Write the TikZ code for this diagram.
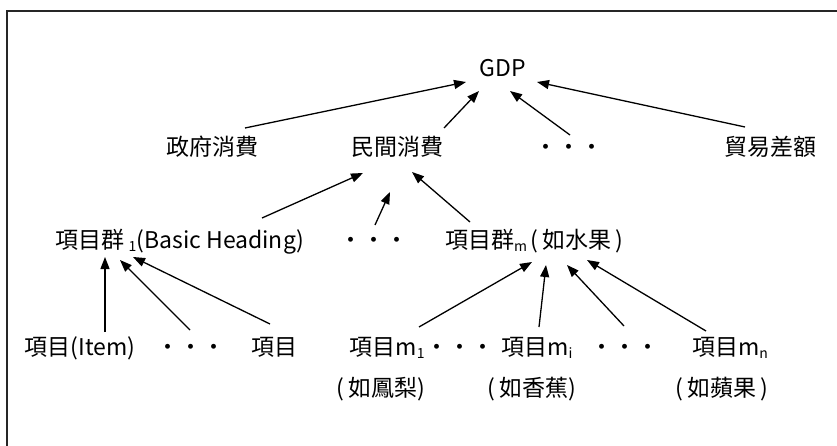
\documentclass[tikz,border=0pt]{standalone}
\usepackage{fontspec}
\setmainfont{Noto Sans CJK TC}
\usetikzlibrary{arrows.meta}
\newcommand\lsub[1]{\raisebox{-0.25ex}{\fontsize{14}{14}\selectfont #1}}
\tikzset{
  lbl/.style={anchor=base,inner sep=0pt,font=\fontsize{23}{28}\selectfont},
  arr/.style={line width=1.3pt,-{Triangle[length=12pt,width=9pt]}},
  frame/.style={line width=2pt,draw=black!85}
}
\begin{document}
\begin{tikzpicture}[x=1pt,y=-1pt]
\useasboundingbox (0,0) rectangle (837,446);
\fill[white] (0,0) rectangle (837,446);
\draw[frame] (6.5,446) -- (6.5,11.5) -- (837,11.5);
% nodes
\node[lbl] (gdp) at (503,77) {GDP};
\node[lbl] (zf) at (212,156) {政府消費};
\node[lbl] (mj) at (397,156) {民間消費};
\node[lbl] (d1) at (569,156) {・・・};
\node[lbl] (my) at (770,156) {貿易差額};
\node[lbl] (g1) at (180,248) {項目群\,\lsub{1}(Basic Heading)};
\node[lbl] (d2) at (374,248) {・・・};
\node[lbl] (gm) at (534,248) {項目群\lsub{m}\,(\,如水果\,)};
\node[lbl] (i1) at (80,355) {項目(Item)};
\node[lbl] (d3) at (191,355) {・・・};
\node[lbl] (i2) at (274,355) {項目};
\node[lbl] (m1) at (387,355) {項目m\lsub{1}};
\node[lbl] (d4) at (460,355) {・・・};
\node[lbl] (mi) at (537,355) {項目m\lsub{i}};
\node[lbl] (d5) at (625,355) {・・・};
\node[lbl] (mn) at (730,355) {項目m\lsub{n}};
\node[lbl] (p1) at (381,396) {(\,如鳳梨)};
\node[lbl] (p2) at (532,396) {(\,如香蕉)};
\node[lbl] (p3) at (722,396) {(\,如蘋果\,)};
% connectors
\draw[arr] ([shift={(33,-28)}]zf.base) -- ([shift={(-37,5)}]gdp.base);
\draw[arr] ([shift={(47,-28)}]mj.base) -- ([shift={(-24,14)}]gdp.base);
\draw[arr] ([shift={(1,-21)}]d1.base) -- ([shift={(7,14)}]gdp.base);
\draw[arr] ([shift={(-25,-29)}]my.base) -- ([shift={(34,5)}]gdp.base);
\draw[arr] ([shift={(82,-30)}]g1.base) -- ([shift={(-34,17)}]mj.base);
\draw[arr] ([shift={(1,-23)}]d2.base) -- ([shift={(-7,36)}]mj.base);
\draw[arr] ([shift={(-64,-26)}]gm.base) -- ([shift={(15,16)}]mj.base);
\draw[arr] ([shift={(25,-23)}]i1.base) -- ([shift={(-75,9)}]g1.base);
\draw[arr] ([shift={(-1,-25)}]d3.base) -- ([shift={(-60,12)}]g1.base);
\draw[arr] ([shift={(-4,-31)}]i2.base) -- ([shift={(-47,9)}]g1.base);
\draw[arr] ([shift={(32,-28)}]m1.base) -- ([shift={(-2,14)}]gm.base);
\draw[arr] ([shift={(2,-28)}]mi.base) -- ([shift={(12,17)}]gm.base);
\draw[arr] ([shift={(-1,-29)}]d5.base) -- ([shift={(33,17)}]gm.base);
\draw[arr] ([shift={(-24,-24)}]mn.base) -- ([shift={(53,12)}]gm.base);
\end{tikzpicture}
\end{document}
